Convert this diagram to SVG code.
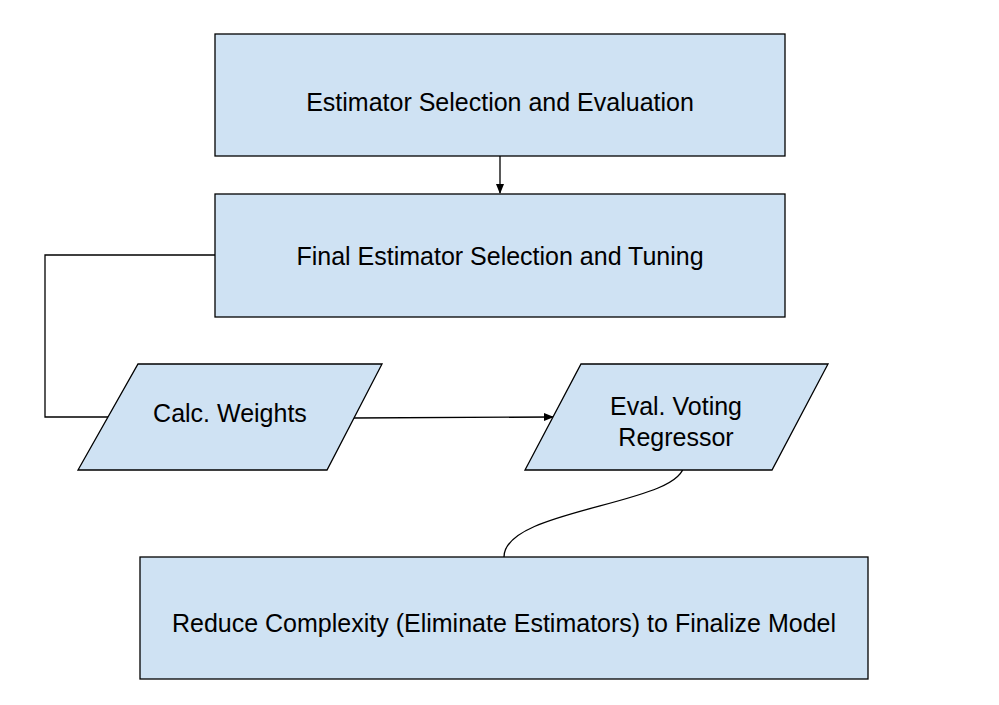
<svg xmlns="http://www.w3.org/2000/svg" width="999" height="705" viewBox="0 0 999 705">
<defs>
<style>
.n{fill:#cfe2f3;stroke:#000;stroke-width:1.3}
.t{font-family:"Liberation Sans",Arial,sans-serif;font-size:25px;fill:#000;text-anchor:middle}
.c{fill:none;stroke:#000;stroke-width:1.3}
</style>
<marker id="a" markerWidth="10" markerHeight="10" refX="9" refY="5" orient="auto" markerUnits="userSpaceOnUse">
<path d="M0,1 L10,5 L0,9 Z" fill="#000"/>
</marker>
</defs>
<rect width="999" height="705" fill="#fff"/>
<g id="connectors">
<path class="c" d="M500,156 V193" marker-end="url(#a)"/>
<path class="c" d="M108,417 H45 V255 H218 V259"/>
<path class="c" d="M353,418 L553,417" marker-end="url(#a)"/>
<path class="c" d="M684,464 C684,505 504,508 504,557"/>
</g>
<g id="n1">
<rect class="n" x="215" y="34" width="570" height="122"/>
<text class="t" x="500" y="111">Estimator Selection and Evaluation</text>
</g>
<g id="n2">
<rect class="n" x="215" y="194" width="570" height="123"/>
<text class="t" x="500" y="265">Final Estimator Selection and Tuning</text>
</g>
<g id="n3">
<polygon class="n" points="138,364 382,364 327,470 78,470"/>
<text class="t" x="230" y="422">Calc. Weights</text>
</g>
<g id="n4">
<polygon class="n" points="581,364 828,364 772,470 525,470"/>
<text class="t" x="676" y="415">Eval. Voting</text>
<text class="t" x="676" y="446">Regressor</text>
</g>
<g id="n5">
<rect class="n" x="140" y="557" width="728" height="122"/>
<text class="t" x="504" y="632">Reduce Complexity (Eliminate Estimators) to Finalize Model</text>
</g>
</svg>
